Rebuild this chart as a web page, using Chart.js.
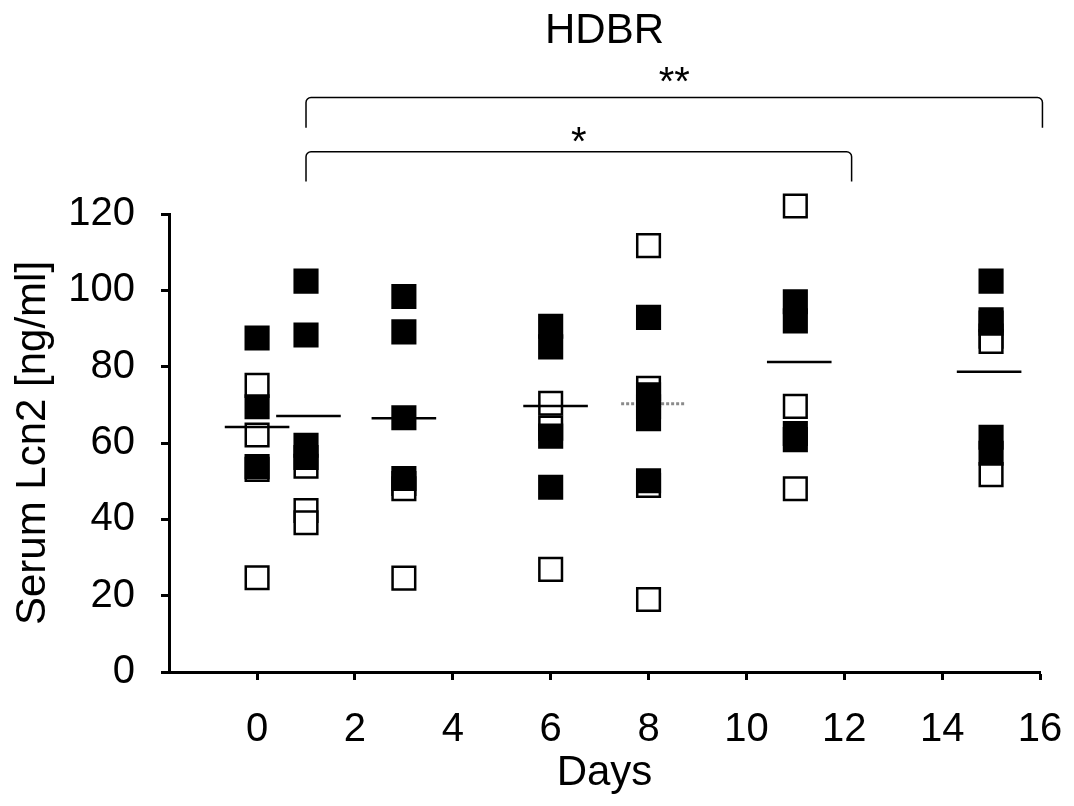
<!DOCTYPE html>
<html>
<head>
<meta charset="utf-8">
<script src="https://cdn.jsdelivr.net/npm/chart.js@4.4.0/dist/chart.umd.min.js"></script>
<style>
  html, body { margin: 0; padding: 0; background: #fff; }
  #wrap { width: 1074px; height: 806px; }
</style>
</head>
<body>
<div id="wrap"><canvas id="myChart"></canvas></div>
<script>
// one entry per sampling day
const days = [0, 1, 3, 6, 8, 11, 15];
const filledValues = [
  [87.5, 69.5, 53.8],
  [102.4, 88.3, 59.4, 56.2],
  [98.4, 89.1, 66.6, 50.7],
  [90.6, 85.2, 61.8, 48.4],
  [92.9, 72.6, 69.5, 66.4, 50.1],
  [97.0, 92.0, 62.5, 60.9],
  [102.4, 92.3, 91.4, 61.5, 57.3]
];
const openValues = [
  [75.1, 62.1, 53.1, 24.7],
  [53.9, 42.3, 39.1],
  [49.4, 48.0, 24.6],
  [70.4, 63.9, 26.9],
  [111.7, 74.3, 48.9, 19.0],
  [122.1, 69.6, 48.0],
  [88.0, 86.6, 51.7]
];
const meanValues = [64.2, 67.1, 66.5, 69.7, 70.3, 81.2, 78.7];
const meanCenters = [0, 1.05, 3.0, 6.1, 8.1, 11.08, 14.96];
const dottedMeanDay = 8;

const xTickValues = [0, 2, 4, 6, 8, 10, 12, 14, 16];
const yTickValues = [0, 20, 40, 60, 80, 100, 120];

// significance brackets (data units)
const brackets = [
  { from: 1, to: 16.05, top: 150.5, leg: 142.6, label: '**', labelY: 157.2 },
  { from: 1, to: 12.15, top: 136.3, leg: 128.5, label: '*', labelY: 141.5 }
];

const FONT = '"Liberation Sans", Arial, sans-serif';
const halfWidth = 0.66;

function points(groups) {
  return days.flatMap((d, i) => groups[i].map(v => ({ x: d, y: v })));
}
function meanSegments(keep) {
  const out = [];
  days.forEach((d, i) => {
    if (!keep(d)) return;
    out.push({ x: meanCenters[i] - halfWidth, y: meanValues[i] });
    out.push({ x: meanCenters[i] + halfWidth, y: meanValues[i] });
    out.push({ x: meanCenters[i], y: null });
  });
  return out;
}

const bracketPlugin = {
  id: 'brackets',
  afterDraw(chart) {
    const { ctx, scales: { x, y } } = chart;
    ctx.save();
    ctx.strokeStyle = '#000';
    ctx.fillStyle = '#000';
    ctx.lineWidth = 1.5;
    ctx.font = '40px ' + FONT;
    ctx.textAlign = 'center';
    ctx.textBaseline = 'alphabetic';
    brackets.forEach(b => {
      const x1 = x.getPixelForValue(b.from), x2 = x.getPixelForValue(b.to);
      const yt = y.getPixelForValue(b.top), yb = y.getPixelForValue(b.leg);
      ctx.beginPath();
      ctx.moveTo(x1, yb);
      ctx.arcTo(x1, yt, x2, yt, 5);
      ctx.arcTo(x2, yt, x2, yb, 5);
      ctx.lineTo(x2, yb);
      ctx.stroke();
      ctx.fillText(b.label, (x1 + x2) / 2, y.getPixelForValue(b.labelY) + 0.58 * 40);
    });
    ctx.restore();
  }
};

Chart.defaults.color = '#000';
Chart.defaults.font.family = FONT;

new Chart('myChart', {
  type: 'scatter',
  data: {
    datasets: [{
      label: 'filled',
      data: points(filledValues),
      pointStyle: 'rect',
      pointRadius: 16,
      backgroundColor: '#000',
      borderColor: '#000',
      borderWidth: 2.5,
      clip: false,
      order: 0
    }, {
      label: 'mean',
      data: meanSegments(d => d !== dottedMeanDay),
      showLine: true,
      spanGaps: false,
      pointRadius: 0,
      borderColor: '#000',
      borderWidth: 2.5,
      order: 1
    }, {
      label: 'mean dotted',
      data: meanSegments(d => d === dottedMeanDay),
      showLine: true,
      spanGaps: false,
      pointRadius: 0,
      borderColor: '#8a8a8a',
      borderDash: [3, 2],
      borderWidth: 3,
      order: 1
    }, {
      label: 'open',
      data: points(openValues),
      pointStyle: 'rect',
      pointRadius: 16,
      backgroundColor: '#fff',
      borderColor: '#000',
      borderWidth: 2.5,
      clip: false,
      order: 2
    }]
  },
  options: {
    responsive: true,
    maintainAspectRatio: false,
    animation: false,
    events: [],
    layout: { padding: { left: 0, right: 34, top: 0, bottom: 0 } },
    plugins: {
      legend: { display: false },
      tooltip: { enabled: false },
      title: {
        display: true,
        text: 'HDBR',
        fullSize: false,
        font: { size: 42, weight: 'normal' },
        padding: { top: 6, bottom: 157.6 }
      }
    },
    scales: {
      x: {
        type: 'linear',
        min: -1.8,
        max: 16,
        afterBuildTicks: s => { s.ticks = xTickValues.map(v => ({ value: v })); },
        afterFit: s => { s.height = 134; s.paddingRight = 0; },
        ticks: { font: { size: 40 }, padding: 26, maxRotation: 0 },
        grid: { drawOnChartArea: false, drawTicks: true, tickLength: 8, tickWidth: 3, tickColor: '#000' },
        border: { display: true, color: '#000', width: 3 },
        title: { display: true, text: 'Days', font: { size: 42 }, padding: { top: 0, bottom: 7 } }
      },
      y: {
        min: 0,
        max: 120,
        afterBuildTicks: s => { s.ticks = yTickValues.map(v => ({ value: v })); },
        afterFit: s => { s.width = 169; },
        ticks: { font: { size: 40 }, padding: 26 },
        grid: { drawOnChartArea: false, drawTicks: true, tickLength: 8, tickWidth: 3, tickColor: '#000' },
        border: { display: true, color: '#000', width: 3 },
        title: { display: true, text: 'Serum Lcn2 [ng/ml]', font: { size: 42 }, padding: { top: 8, bottom: 0 } }
      }
    }
  },
  plugins: [bracketPlugin]
});
</script>
</body>
</html>
